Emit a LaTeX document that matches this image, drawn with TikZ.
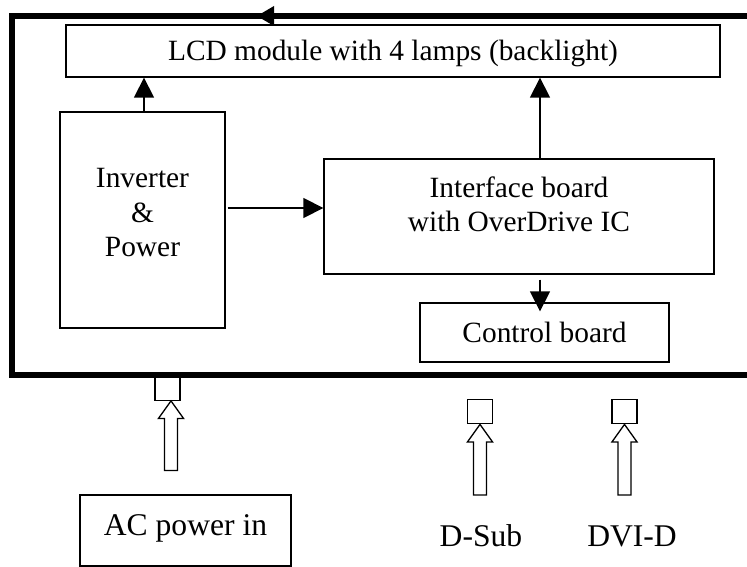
\documentclass[tikz,border=0pt]{standalone}
\usepackage{fontspec}
\setmainfont{Liberation Serif}
\usetikzlibrary{arrows.meta,calc}
\tikzset{
  box/.style={draw, line width=1.3pt, inner sep=0pt, rectangle},
  txt/.style={inner sep=0pt, font=\fontsize{29.4}{34.5}\selectfont},
  btxt/.style={inner sep=0pt, font=\fontsize{31.6}{36}\selectfont},
  arr/.style={line width=1.3pt, -{Triangle[length=20pt,width=20pt]}},
  frameline/.style={line width=5.5pt, line join=miter},
  plug/.style={draw, line width=1.3pt, minimum width=25pt, minimum height=24.5pt, inner sep=0pt},
  hollow/.style={draw, line width=1.3pt, fill=white, line join=miter},
}
\newcommand\hollowup[2]{%
  \draw[hollow] (#1) -- ++(12.5,17.5) -- ++(-6,0) -- ++(0,#2) -- ++(-13,0) -- ++(0,-#2) -- ++(-6,0) -- cycle;}
\begin{document}
\begin{tikzpicture}[x=1pt,y=-1pt]
\useasboundingbox (0,0) rectangle (747,567);

% outer frame
\draw[frameline] (752,16) -- (12,16) -- (12,375) -- (752,375);
\fill (257,16) -- (274,6) -- (274,26) -- cycle;

% boxes
\node[box, minimum width=654pt, minimum height=52pt] (lcd) at (393,51) {};
\node[box, minimum width=165pt, minimum height=216pt] (inv) at (142.5,220) {};
\node[box, minimum width=390pt, minimum height=115pt] (iface) at (519,216.5) {};
\node[box, minimum width=249pt, minimum height=59pt] (ctrl) at (544.5,332.5) {};
\node[box, minimum width=211pt, minimum height=71pt] (ac) at (185.5,530.5) {};

% texts
\node[txt, anchor=base] (lcdt) at (393,61) {LCD module with 4 lamps (backlight)};
\node[txt, align=center] (invt) at (142.5,213) {Inverter\\\&\\Power};
\node[txt, align=center] (ifacet) at (519,204.5) {Interface board\\with OverDrive IC};
\node[txt, anchor=base] (ctrlt) at (544.5,342) {Control board};
\node[btxt, anchor=base] (act) at (185.5,535) {AC power in};
\node[btxt, anchor=base] (dsubt) at (481,546) {D-Sub};
\node[btxt, anchor=base] (dvit) at (632,546) {DVI-D};

% connectors
\coordinate (a1) at ($(inv.north)+(1.5,0)$);
\draw[arr] (a1) -- (a1 |- lcd.south);
\coordinate (a2) at ($(iface.north)+(21,0)$);
\draw[arr] (a2) -- (a2 |- lcd.south);
\coordinate (a3) at ($(inv.east)+(2,-12)$);
\draw[arr] (a3) -- (a3 -| iface.west);
\coordinate (a4) at ($(iface.south)+(21,5)$);
\coordinate (a4e) at ($(ctrl.north)+(-4.5,9)$);
\draw[arr] (a4) -- (a4e);

% plugs and hollow arrows
\node[plug] (pac) at (167.5,388) {};
\node[plug] (pdsub) at (480,411.5) {};
\node[plug] (pdvi) at (624.5,411.5) {};
\coordinate (tac) at ($(pac.south)+(3.5,0)$);
\hollowup{tac}{52}
\hollowup{pdsub.south}{53}
\hollowup{pdvi.south}{53}
\end{tikzpicture}
\end{document}
